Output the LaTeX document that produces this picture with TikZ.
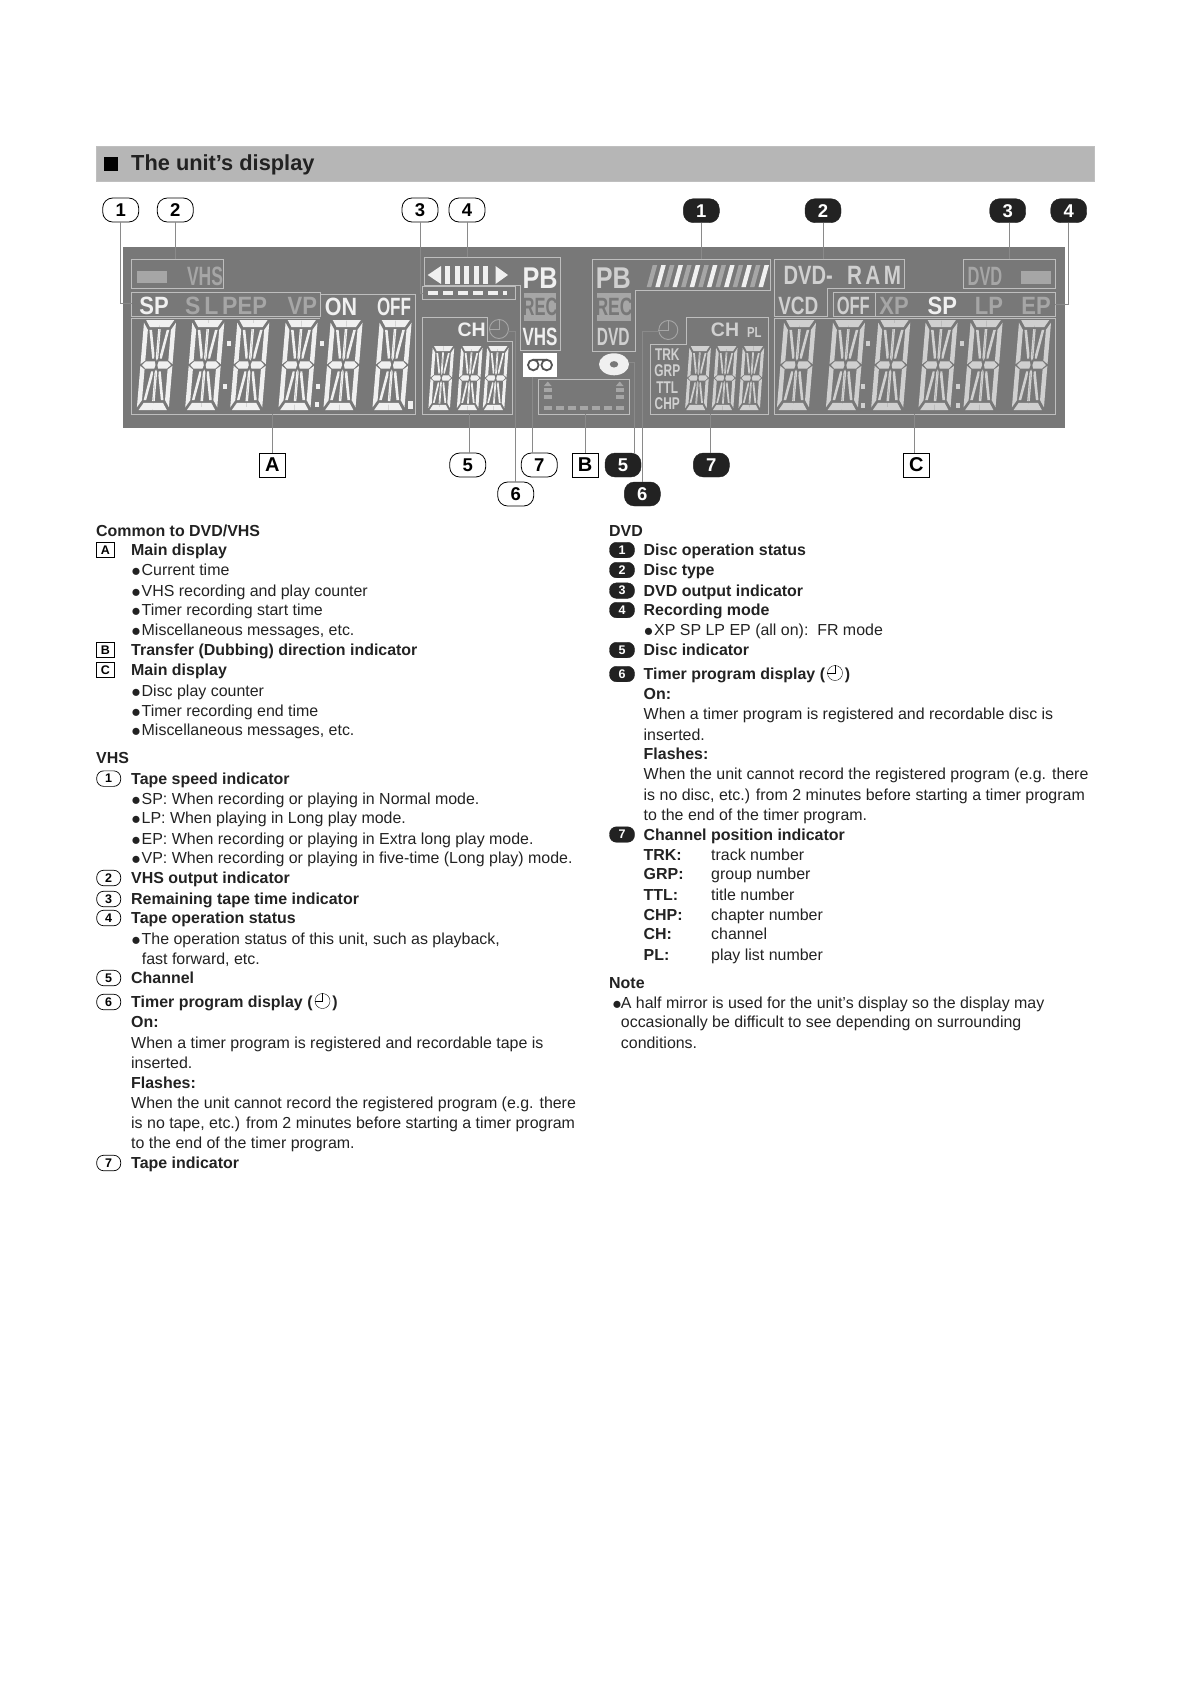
\documentclass[tikz,border=0pt]{standalone}
\usepackage{graphicx}
\usepackage{fontspec}
\setmainfont{Liberation Sans}
\usetikzlibrary{positioning, shapes.geometric}
\definecolor{barGrey}{HTML}{B6B6B6}
\definecolor{panelGrey}{HTML}{787878}
\definecolor{lcdLit}{HTML}{F0F0F0}
\definecolor{lcdSoft}{HTML}{D0D0D0}
\definecolor{lcdDim}{HTML}{A6A6A6}
\definecolor{lcdLine}{HTML}{BEBEBE}
\definecolor{leadGrey}{HTML}{8A8A8A}
\definecolor{inkBlack}{HTML}{222222}
\def\bodySize{15.95}
\newcommand{\lcdx}[2]{\scalebox{#1}[1]{#2}}
\newcommand{\blt}{\makebox[10.5pt][l]{\raisebox{-1pt}{\fontsize{16.5}{16.5}\selectfont ●}}}
% #1 = left, #2 = bottom, #3 = width, #4 = height, #5 = slant, #6 = colour
\newcommand{\lcddigit}[6]{%
\foreach \i in {1,-1} \foreach \j in {1,-1} {
\begin{scope}[shift={(#1+.5*#3+.5*#5,#2-.5*#4)},x={(\i*#3pt,0pt)},y={(\j*#5pt,\j*#4pt)},fill=#6]
\fill (0,.5) -- (.44,.5) -- (.3,.42) -- (0,.42) -- cycle;
\fill (.5,.47) -- (.36,.39) -- (.36,.05) -- (.5,.01) -- cycle;
\fill (.45,0) -- (.34,.04) -- (.06,.04) -- (.03,0) -- cycle;
\fill (0,.4) -- (.04,.4) -- (.04,.08) -- (0,.05) -- cycle;
\fill (.31,.39) -- (.23,.39) -- (.09,.12) -- (.09,.07) -- (.15,.07) -- cycle;
\end{scope}}}
\newcommand{\clockhands}[2]{\draw[#2] (#1.90) -- (#1.center) -- (#1.180);}
\tikzset{
  callW/.style={draw=black, line width=.8, fill=white, rounded corners=10, minimum width=36, minimum height=24, inner sep=0, font=\fontsize{18.5}{18.5}\selectfont\bfseries},
  callK/.style={draw=inkBlack, fill=inkBlack, text=white, rounded corners=10, minimum width=36, minimum height=24, inner sep=0, font=\fontsize{18.5}{18.5}\selectfont\bfseries},
  callB/.style={draw=black, line width=.8, fill=white, minimum width=26, minimum height=24, inner sep=0, font=\fontsize{20}{20}\selectfont\bfseries},
  tagW/.style={draw=black, line width=.7, fill=white, rounded corners=7, minimum width=24, minimum height=15.5, inner sep=0, font=\fontsize{12.5}{12.5}\selectfont\bfseries},
  tagK/.style={draw=inkBlack, fill=inkBlack, text=white, rounded corners=7, minimum width=25, minimum height=15.5, inner sep=0, font=\fontsize{12.5}{12.5}\selectfont\bfseries},
  tagB/.style={draw=black, line width=.7, fill=white, minimum width=18.5, minimum height=15.5, inner sep=0, font=\fontsize{12.5}{12.5}\selectfont\bfseries},
  bodyT/.style={anchor=west, inner sep=0, text height=13, text depth=0, text=inkBlack, font=\fontsize{\bodySize}{20}\selectfont},
  headT/.style={bodyT, font=\fontsize{\bodySize}{20}\selectfont\bfseries},
  lcd/.style={inner sep=0, text=lcdLit, font=\fontsize{#1}{#1}\selectfont\bfseries},
  lcd/.default=25,
  dim/.style={text=lcdDim},
  soft/.style={text=lcdSoft},
  frameL/.style={draw=lcdLine, line width=.9},
  leader/.style={draw=leadGrey, line width=1},
  clockIc/.style={circle, inner sep=0, minimum size=#1},
}
\begin{document}
\begin{tikzpicture}[x=1pt,y=-1pt]
\useasboundingbox (0,0) rectangle (1190,1684);
% heading bar
\node[draw=lightgray, fill=barGrey, minimum width=998, minimum height=35, inner sep=0] (bar) at (595,163.5) {};
\node[fill=black, minimum size=14, inner sep=0] (barMark) at (111,163.5) {};
\node[inner sep=0, anchor=west, font=\fontsize{21.8}{22}\selectfont\bfseries, text=inkBlack] (barText) at (131,165) {The unit’s display};
% display panel
\fill[panelGrey] (123,247) rectangle (1065,428);
% frames
\draw[frameL] (131.7,259) rectangle (223.3,288.3);
\draw[frameL] (131.7,292.3) rectangle (320,316.7);
\draw[frameL] (320,294) -- (415,294) -- (415,414.3) -- (131.7,414.3) -- (131.7,318.5) -- (320,318.5);
\draw[frameL] (422.7,286.7) rectangle (515,299);
\draw[frameL] (424.3,285) -- (424.3,257.3) -- (560,257.3) -- (560,350.7) -- (520,350.7) -- (520,285) -- cycle;
\draw[frameL] (422.7,317.3) -- (487.7,317.3) -- (487.7,341.7) -- (512.3,341.7) -- (512.3,414.3) -- (422.7,414.3) -- cycle;
\draw[frameL] (538.3,379) rectangle (629.3,414.3);
\draw[frameL] (592.3,259) -- (770,259) -- (770,290) -- (635,290) -- (635,351.7) -- (592.3,351.7) -- cycle;
\draw[frameL] (774.3,259) -- (904.3,259) -- (904.3,288.3) -- (827.3,288.3) -- (827.3,316.7) -- (774.3,316.7) -- cycle;
\draw[frameL] (833.3,292.3) rectangle (875,316.7);
\draw[frameL] (875.7,292.3) rectangle (1055,316.7);
\draw[frameL] (963.3,259) rectangle (1055,288.3);
\draw[frameL] (774.3,318.3) rectangle (1055,414.3);
\draw[frameL] (686,344) -- (686,317.3) -- (768.3,317.3) -- (768.3,414.3) -- (650.7,414.3) -- (650.7,344) -- cycle;
% big digits
\foreach \dx in {136.7,185,230,278.3,323.3,372.3} {\lcddigit{\dx}{410}{32}{90}{7.5}{lcdLit}}
\foreach \dx in {776.7,825.7,871,918.3,963.3,1011.7} {\lcddigit{\dx}{410}{32}{90}{7.5}{lcdSoft}}
\foreach \dx in {428.3,456.7,482.7} {\lcddigit{\dx}{410}{21.5}{64}{4.5}{lcdLit}}
\foreach \dx in {685,711.7,738.3} {\lcddigit{\dx}{410}{21.5}{64}{4.5}{lcdSoft}}
\foreach \px/\py in {229.3/343,225/386.7,322/343,317.5/386.7,317/404} {\fill[lcdLit] (\px-2,\py-2.5) rectangle (\px+2,\py+2.5);}
\fill[lcdLit] (408,401) rectangle (412.5,409);
\foreach \px/\py in {868.3/343,863.3/386.7,863.3/405,962.3/343,957.7/386.7,957.7/405} {\fill[lcdSoft] (\px-2,\py-2.5) rectangle (\px+2,\py+2.5);}
% left readouts
\fill[lcdDim] (136.7,270.7) rectangle (167.3,283.3);
\node[lcd=26.5, dim] (lVHS) at (205,276.7) {\lcdx{.66}{VHS}};
\node[lcd] (lSP) at (154,306) {\lcdx{.88}{SP}};
\node[lcd, dim] (lSLP) at (211.3,306) {\lcdx{.92}{S\,L\,P}};
\node[lcd, dim] (lEP) at (252.3,306) {\lcdx{.88}{EP}};
\node[lcd, dim] (lVP) at (302.3,306) {\lcdx{.88}{VP}};
\node[lcd] (lON) at (341,306.7) {\lcdx{.86}{ON}};
\node[lcd] (lOFF) at (394,306.7) {\lcdx{.68}{OFF}};
\node[lcd=19.5] (lCH) at (471.7,330) {CH};
\node[lcd=30] (lPB) at (540,277.7) {\lcdx{.84}{PB}};
\fill[lcdDim] (524.3,293.3) rectangle (556,320.7);
\node[lcd=25, text=panelGrey] (lREC) at (540,307.3) {\lcdx{.66}{REC}};
\node[lcd=25] (lVHSb) at (540,336.7) {\lcdx{.68}{VHS}};
\fill[lcdLit] (427.7,275) -- (441,266) -- (441,284) -- cycle;
\foreach \bx in {445,454.5,464,473.5,483} {\fill[lcdLit] (\bx,266) rectangle (\bx+5,284);}
\fill[lcdLit] (495.5,266) -- (508,275) -- (495.5,284) -- cycle;
\foreach \bx in {428,443,458,473,488} {\fill[lcdLit] (\bx,290.5) rectangle (\bx+10,295);}
\fill[lcdLit] (503,290.5) rectangle (507,295);
% tape icon
\node[fill=white, minimum width=33.4, minimum height=23.4, inner sep=0] (tapeIc) at (540,365) {};
\draw[panelGrey!70!black, line width=1.8] (533.3,365) circle (5.3) (546.7,365) circle (5.3) (533.3,359.7) -- (546.7,359.7);
% clock icons
\node[clockIc=19, draw=lcdDim, line width=.9] (clkV) at (499,329) {};
\clockhands{clkV}{lcdDim, line width=.9}
\node[clockIc=19, draw=lcdDim, line width=.9] (clkD) at (668.3,330) {};
\clockhands{clkD}{lcdDim, line width=.9}
% transfer indicator
\foreach \bx in {544,556,568,580,592,604,616} {\fill[lcdDim] (\bx,405.5) rectangle (\bx+8,409.5);}
\foreach \bx in {544,616} {
\fill[lcdDim] (\bx,395) rectangle (\bx+7.5,399);
\fill[lcdDim] (\bx,387.5) rectangle (\bx+7.5,391.5);
\fill[lcdDim] (\bx,386) -- (\bx+3.7,381.5) -- (\bx+7.5,386) -- cycle;}
% right readouts
\node[lcd=30, soft] (rPB) at (613.3,277.7) {\lcdx{.84}{PB}};
\fill[lcdDim] (597.3,293.3) rectangle (630.7,320.7);
\node[lcd=25, text=panelGrey] (rREC) at (614,307.3) {\lcdx{.7}{REC}};
\node[lcd=25, soft] (rDVD) at (613.3,336.7) {\lcdx{.62}{DVD}};
\foreach \bx/\sc in {646.7/lcdDim,655.3/lcdLit,663.9/lcdDim,672.5/lcdLit,681.1/lcdDim,689.7/lcdLit,698.3/lcdDim,706.9/lcdLit,715.5/lcdDim,724.1/lcdLit,732.7/lcdDim,741.3/lcdLit,749.9/lcdDim,758.5/lcdLit} {
\fill[\sc] (\bx,287) -- (\bx+4.5,287) -- (\bx+10.5,265) -- (\bx+6,265) -- cycle;}
\node[lcd=26.5, soft] (rDVDm) at (808.3,275.7) {\lcdx{.76}{DVD-}};
\node[lcd=26.5, soft] (rRAM) at (874,275.7) {\lcdx{.78}{R\,A\,M}};
\node[lcd=25, soft] (rVCD) at (798.3,306) {\lcdx{.76}{VCD}};
\node[lcd=25, soft] (rOFF) at (853.3,306) {\lcdx{.66}{OFF}};
\node[lcd, dim] (rXP) at (894,306) {\lcdx{.88}{XP}};
\node[lcd] (rSP) at (942.3,306) {\lcdx{.88}{SP}};
\node[lcd, dim] (rLP) at (989,306) {\lcdx{.88}{LP}};
\node[lcd, dim] (rEP) at (1036,306) {\lcdx{.88}{EP}};
\node[lcd=26.5, dim] (rDVDb) at (985,276.7) {\lcdx{.62}{DVD}};
\fill[lcdDim] (1020.7,270.7) rectangle (1051,284);
\node[lcd=19.5, soft] (rCH) at (725,330) {CH};
\node[lcd=14.5, soft] (rPL) at (754.3,332.7) {\lcdx{.78}{PL}};
\foreach \ty/\tn in {355/TRK,371/GRP,387.3/TTL,403.3/CHP} {\node[lcd=17, soft] (r\tn) at (667.3,\ty) {\lcdx{.7}{\tn}};}
% disc icon
\node[ellipse, fill=lcdLit, minimum width=30, minimum height=22, inner sep=0] (disc) at (614,364.3) {};
\fill[panelGrey] (disc.center) ellipse (4.2 and 3.2);
% upper callouts
\node[callW] (v1) at (120.7,210) {1};
\node[callW] (v2) at (175.3,210) {2};
\node[callW] (v3) at (420,210) {3};
\node[callW] (v4) at (467,210) {4};
\node[callK] (d1) at (701.3,210.7) {1};
\node[callK] (d2) at (823,210.7) {2};
\node[callK] (d3) at (1007.7,210.7) {3};
\node[callK] (d4) at (1068.7,210.7) {4};
% lower callouts
\node[callB] (mA) at (272.3,465) {A};
\node[callW] (v5) at (467.7,465) {5};
\node[callW] (v7) at (539.3,465) {7};
\node[callB] (mB) at (585,465) {B};
\node[callK] (d5) at (623,465) {5};
\node[callK] (d7) at (711.3,465) {7};
\node[callB] (mC) at (916.3,465) {C};
\node[callW] (v6) at (515.7,494) {6};
\node[callK] (d6) at (642.3,494) {6};
% leader end points
\coordinate (eV1) at (131.7,303.3);
\coordinate (eV2) at (175.3,259);
\coordinate (eV3) at (422.7,293);
\coordinate (eV4) at (467.7,257.3);
\coordinate (eV5) at (469,414.3);
\coordinate (eV6) at (508,331);
\coordinate (eV7) at (532.7,376.7);
\coordinate (eD1) at (701.3,259);
\coordinate (eD2) at (823,259);
\coordinate (eD3) at (1009,259);
\coordinate (eD4) at (1055,304.3);
\coordinate (eD5) at (629,362.7);
\coordinate (tD5) at (634,454);
\coordinate (eD6) at (660,331);
\coordinate (eD7) at (710.7,414.3);
\coordinate (eA) at (272.3,414.3);
\coordinate (eB) at (585,414.3);
\coordinate (eC) at (914,414.3);
\draw[leader] (v1.south) |- (eV1);
\draw[leader] (eV2) -- (eV2 |- v2.south);
\draw[leader] (eV3) -| (v3.south);
\draw[leader] (eV4) -- (eV4 |- v4.south);
\draw[leader] (eV5) -- (eV5 |- v5.north);
\draw[leader] (eV6) -| (v6.north);
\draw[leader] (eV7) -- (eV7 |- v7.north);
\draw[leader] (eD1) -- (eD1 |- d1.south);
\draw[leader] (eD2) -- (eD2 |- d2.south);
\draw[leader] (eD3) -- (eD3 |- d3.south);
\draw[leader] (eD4) -| (d4.south);
\draw[leader] (eD5) -| (tD5);
\draw[leader] (eD6) -| (d6.north);
\draw[leader] (eD7) -- (eD7 |- d7.north);
\draw[leader] (eA) -- (eA |- mA.north);
\draw[leader] (eB) -- (eB |- mB.north);
\draw[leader] (eC) -- (eC |- mC.north);
% left column
\node[headT] (cHead) at (96,529.5) {Common to DVD/VHS};
\node[headT] (vHead) at (96,757) {VHS};
\foreach \ty/\tl/\tx in {549/A/Main display,649/B/Transfer (Dubbing) direction indicator,669/C/Main display} {
\node[tagB] (k\tl) at (105.3,\ty+1) {\tl};
\node[headT] (h\tl) at (131,\ty) {\tx};}
\foreach \ty/\tl/\tx in {777.6/1/Tape speed indicator,877/2/VHS output indicator,898/3/Remaining tape time indicator,917/4/Tape operation status,977/5/Channel,1001/6/Timer program display (,1162/7/Tape indicator} {
\node[tagW] (kv\tl) at (108.7,\ty+1) {\tl};
\node[headT] (hv\tl) at (131,\ty) {\tx};}
\node[clockIc=15, draw=black, right=2pt of hv6] (clkL) {};
\clockhands{clkL}{black}
\node[headT, right=2pt of clkL] (hv6b) {)};
\foreach \ty/\tx [count=\n] in {
  569/\blt Current time,
  589.6/\blt VHS recording and play counter,
  609/\blt Timer recording start time,
  629/{\blt Miscellaneous messages, etc.},
  689.5/\blt Disc play counter,
  710/\blt Timer recording end time,
  729/{\blt Miscellaneous messages, etc.},
  798/\blt SP: When recording or playing in Normal mode.,
  817/\blt LP: When playing in Long play mode.,
  838/\blt EP: When recording or playing in Extra long play mode.,
  857/\blt VP: When recording or playing in five-time (Long play) mode.,
  938/{\blt The operation status of this unit, such as playback,},
  1042/When a timer program is registered and recordable tape is,
  1062/inserted.,
  1102/When the unit cannot record the registered program (e.g. there,
  1122/{is no tape, etc.) from 2 minutes before starting a timer program},
  1142/to the end of the timer program.} {
\node[bodyT] (a\n) at (131,\ty) {\tx};}
\node[bodyT] (aFast) at (141.7,958) {fast forward, etc.};
\node[headT] (aOn) at (131,1021) {On:};
\node[headT] (aFl) at (131,1081.5) {Flashes:};
% right column
\node[headT] (dHead) at (609,529.5) {DVD};
\foreach \ty/\tl/\tx in {549/1/Disc operation status,569/2/Disc type,589.6/3/DVD output indicator,609/4/Recording mode,649/5/Disc indicator,673/6/Timer program display (,833.5/7/Channel position indicator} {
\node[tagK] (kd\tl) at (622,\ty+1) {\tl};
\node[headT] (hd\tl) at (643.5,\ty) {\tx};}
\node[clockIc=15, draw=black, right=2pt of hd6] (clkR) {};
\clockhands{clkR}{black}
\node[headT, right=2pt of clkR] (hd6b) {)};
\foreach \ty/\tx [count=\n] in {
  713/When a timer program is registered and recordable disc is,
  733.5/inserted.,
  773/When the unit cannot record the registered program (e.g. there,
  794/{is no disc, etc.) from 2 minutes before starting a timer program},
  814/to the end of the timer program.} {
\node[bodyT] (b\n) at (643.5,\ty) {\tx};}
\node[bodyT] (bXP) at (643.5,629) {\blt XP SP LP EP (all on):\ \ FR mode};
\node[headT] (bOn) at (643.5,693) {On:};
\node[headT] (bFl) at (643.5,753) {Flashes:};
\foreach \ty/\tc/\tx [count=\n] in {854/TRK:/track number,873/GRP:/group number,893.6/TTL:/title number,914/CHP:/chapter number,933/CH:/channel,954/PL:/play list number} {
\node[headT] (pc\n) at (643.5,\ty) {\tc};
\node[bodyT] (pm\n) at (711,\ty) {\tx};}
% note
\node[headT] (noteH) at (609,982) {Note};
\node[bodyT] (noteA) at (612,1002) {\makebox[8.7pt][l]{\raisebox{-1pt}{\fontsize{16.5}{16.5}\selectfont ●}}A half mirror is used for the unit’s display so the display may};
\node[bodyT] (noteB) at (620.7,1021) {occasionally be difficult to see depending on surrounding};
\node[bodyT] (noteC) at (620.7,1042) {conditions.};
\end{tikzpicture}
\end{document}
